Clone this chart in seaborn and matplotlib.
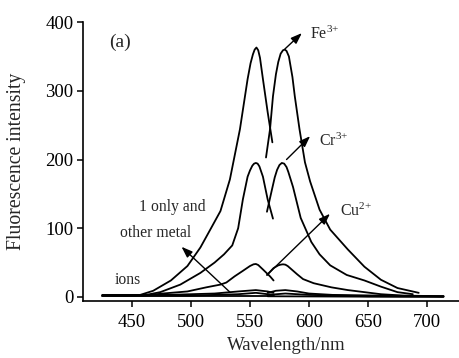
import matplotlib
matplotlib.use("Agg")
import matplotlib.pyplot as plt
import numpy as np
import pandas as pd
import seaborn as sns

# Emission spectra: each ion has a short-wavelength branch and a long-wavelength branch
fe_left_wl = [425, 445, 457, 468, 483, 497, 508, 517, 525, 533, 541.5, 548, 550.5, 552.5, 554, 555.5,
              557, 558.5, 561, 565, 569]
fe_left_int = [3, 2, 3, 9, 24, 45, 72, 100, 125, 171, 244, 317, 340, 353, 360, 363,
               359, 348, 317, 269, 225]
fe_right_wl = [563.6, 567, 569.5, 572, 574, 576, 578, 579.5, 581, 583, 586, 588, 592, 596.6, 601,
               609, 618, 633, 647, 661, 675, 693]
fe_right_int = [203, 244, 292, 324, 342, 354, 359, 360, 358, 350, 320, 292, 244, 196, 168,
                127, 98, 69, 44, 25, 13, 6]

cr_left_wl = [425, 450, 462, 474, 491, 508, 520, 528, 535, 540, 544, 548, 550, 552, 553.5, 555,
              556.5, 558, 561, 565, 569.5]
cr_left_int = [2, 2, 3, 7, 18, 35, 50, 62, 75, 100, 142, 175, 184, 191, 194, 195,
               194, 190, 175, 142, 114]
cr_right_wl = [564.4, 568.6, 571, 573, 575, 577, 579, 581, 582.5, 586.5, 593, 602, 609, 618, 632,
               647, 661, 675, 688]
cr_right_int = [124, 156, 174, 185, 192, 195, 194, 189, 182, 160, 115, 80, 62, 46, 32,
                24, 15, 7, 4]

cu_left_wl = [425, 460, 476, 497, 513, 525, 530, 537, 544, 550, 553, 555, 557, 561, 567, 570]
cu_left_int = [2, 2, 5, 8, 14, 18, 21, 30, 38, 45, 47.5, 48, 46.5, 40, 30, 24]
cu_right_wl = [564.5, 570, 574, 576, 578, 580, 582, 586, 590, 595, 604, 619, 633, 647, 661, 680, 714]
cu_right_int = [32, 42, 46, 47, 47.5, 47, 45, 39, 33, 26, 20, 14, 10, 7, 4, 2, 1]

# Probe alone and with the non-responsive metal ions
low1_left_wl = [425, 480, 520, 540, 555, 565, 570]
low1_left_int = [3, 3, 5, 8, 10, 8, 6]
low1_right_wl = [565, 572, 580, 590, 600, 620, 660, 714]
low1_right_int = [6, 9, 10, 8, 5, 3, 2, 1]
low2_left_wl = [425, 500, 540, 555, 570]
low2_left_int = [2, 2, 4, 6, 3]
low2_right_wl = [565, 580, 600, 650, 714]
low2_right_int = [3, 5, 3, 1, 1]
low3_left_wl = [425, 570]
low3_left_int = [1, 1]
low3_right_wl = [565, 714]
low3_right_int = [1, 0]

segments = {
    "Fe3+ a": (fe_left_wl, fe_left_int), "Fe3+ b": (fe_right_wl, fe_right_int),
    "Cr3+ a": (cr_left_wl, cr_left_int), "Cr3+ b": (cr_right_wl, cr_right_int),
    "Cu2+ a": (cu_left_wl, cu_left_int), "Cu2+ b": (cu_right_wl, cu_right_int),
    "other1 a": (low1_left_wl, low1_left_int), "other1 b": (low1_right_wl, low1_right_int),
    "other2 a": (low2_left_wl, low2_left_int), "other2 b": (low2_right_wl, low2_right_int),
    "other3 a": (low3_left_wl, low3_left_int), "other3 b": (low3_right_wl, low3_right_int),
}

df = pd.concat(
    [pd.DataFrame({"wavelength": wl, "intensity": it, "segment": name})
     for name, (wl, it) in segments.items()],
    ignore_index=True,
)

x_ticks = [450, 500, 550, 600, 650, 700]
y_ticks = [0, 100, 200, 300, 400]

sns.set_theme(style="ticks")
plt.rcParams["font.family"] = ["Liberation Serif", "DejaVu Serif"]
plt.rcParams["mathtext.fontset"] = "custom"
plt.rcParams["mathtext.rm"] = "Liberation Serif"
plt.rcParams["mathtext.it"] = "Liberation Serif:italic"

fig = plt.figure(figsize=(4.6, 3.58), dpi=100)
ax = fig.add_axes([0.1804, 0.159, 0.8196, 0.7793])

sns.lineplot(data=df, x="wavelength", y="intensity", units="segment",
             estimator=None, sort=False, color="black", lw=1.3, ax=ax)

ax.set_xlim(408.5, 728)
ax.set_ylim(-6, 400)
ax.set_xticks(x_ticks)
ax.set_yticks(y_ticks)
ax.tick_params(axis="both", direction="out", length=4, width=1.1,
               labelsize=13.5, colors="black", pad=3)
ax.tick_params(axis="x", pad=5)
for side in ("top", "right"):
    ax.spines[side].set_visible(False)
for side in ("left", "bottom"):
    ax.spines[side].set_linewidth(1.2)
    ax.spines[side].set_color("black")

ax.set_xlabel("Wavelength/nm", fontsize=13.5)
ax.set_ylabel("Fluorescence intensity", fontsize=14.2)
ax.xaxis.set_label_coords(0.54, -0.13)
ax.yaxis.set_label_coords(-0.152, 0.5)

arrow = dict(arrowstyle="-|>,head_length=0.55,head_width=0.2", color="black", lw=1.0,
             shrinkA=0, shrinkB=0)
ax.annotate("", xy=(594, 384), xytext=(579.7, 361), arrowprops=arrow)
ax.annotate("", xy=(601, 234), xytext=(581, 200), arrowprops=arrow)
ax.annotate("", xy=(617.8, 121), xytext=(564.4, 32), arrowprops=arrow)
ax.annotate("", xy=(492, 73), xytext=(533, 7), arrowprops=arrow)

ax.text(601, 382, "Fe$^{3{+}}$", fontsize=11.5, ha="left", va="center")
ax.text(608.5, 227, "Cr$^{3{+}}$", fontsize=11.5, ha="left", va="center")
ax.text(626, 124, "Cu$^{2{+}}$", fontsize=11.5, ha="left", va="center")
ax.text(440, 371, "(a)", fontsize=14, ha="center", va="center")
ax.text(484, 131, "1 only and", fontsize=11.3, ha="center", va="center")
ax.text(470, 93, "other metal", fontsize=11.3, ha="center", va="center")
ax.text(446.6, 25, "ions", fontsize=11.3, ha="center", va="center")

fig.savefig("out.png", dpi=100)
